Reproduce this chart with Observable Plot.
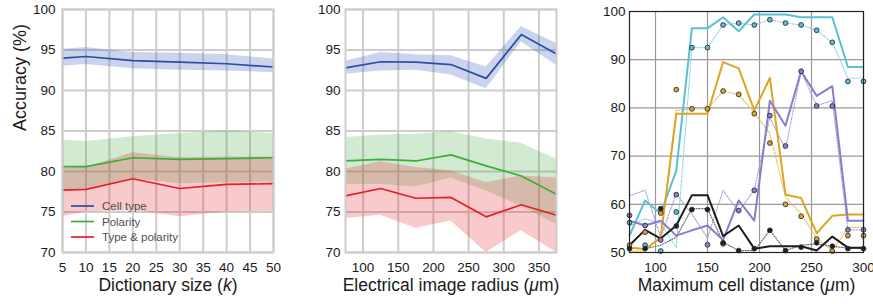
<!DOCTYPE html>
<html><head><meta charset="utf-8">
<script src="https://cdn.jsdelivr.net/npm/d3@7"></script>
<script src="https://cdn.jsdelivr.net/npm/@observablehq/plot@0.6"></script>
<style>
body{margin:0;background:#fff;}
#wrap{position:relative;width:873px;height:304px;overflow:hidden;font-family:"Liberation Sans",Arial,Helvetica,sans-serif;}
#wrap > svg{position:absolute;top:0;}
</style></head><body><div id="wrap"></div>
<script>
// ---------- Panel 1: dictionary size ----------
const dictSize = [5, 10, 20, 30, 40, 50];
const dictTicks = [5, 10, 15, 20, 25, 30, 35, 40, 45, 50];
const cellType1 = [94.0, 94.2, 93.7, 93.5, 93.3, 92.9];
const cellType1Lo = [93.0, 93.2, 92.7, 92.5, 92.4, 92.2];
const cellType1Hi = [95.1, 95.3, 94.7, 94.6, 94.4, 93.9];
const polarity1 = [80.6, 80.6, 81.7, 81.5, 81.6, 81.7];
const polarity1Lo = [77.7, 77.9, 79.1, 78.5, 78.6, 78.7];
const polarity1Hi = [83.9, 83.7, 84.3, 84.7, 85.0, 84.7];
const typePol1 = [77.7, 77.8, 79.1, 77.9, 78.4, 78.5];
const typePol1Lo = [74.4, 75.0, 75.2, 74.4, 75.0, 75.1];
const typePol1Hi = [80.4, 80.5, 82.3, 81.7, 81.8, 81.8];

// ---------- Panel 2: electrical image radius ----------
const radius = [75, 125, 175, 225, 275, 325, 375];
const radiusTicks = [100, 150, 200, 250, 300, 350];
const cellType2 = [92.8, 93.55, 93.5, 93.2, 91.5, 96.9, 94.5];
const cellType2Lo = [92.0, 92.4, 92.5, 91.9, 90.2, 96.0, 93.1];
const cellType2Hi = [93.6, 94.7, 94.4, 94.3, 92.9, 97.9, 95.8];
const polarity2 = [81.3, 81.5, 81.3, 82.05, 80.7, 79.45, 77.2];
const polarity2Lo = [78.4, 78.4, 78.1, 79.2, 77.6, 75.7, 73.5];
const polarity2Hi = [84.2, 84.5, 84.6, 84.9, 84.0, 83.5, 81.5];
const typePol2 = [77.0, 77.9, 76.7, 76.8, 74.4, 75.9, 74.6];
const typePol2Lo = [74.2, 74.6, 73.0, 73.9, 70.0, 72.7, 70.0];
const typePol2Hi = [80.3, 81.2, 80.5, 80.1, 78.6, 79.45, 79.2];

const accTicks = [70, 75, 80, 85, 90, 95, 100];
const seriesNames = ["Cell type", "Polarity", "Type & polarity"];
const seriesColors = ["#2c4da6", "#3cae38", "#e51f26"];
const bandColors = ["#3c64be", "#2ca02c", "#e8202a"];
const bandOpacity = [0.27, 0.22, 0.24];

// ---------- Panel 3: maximum cell distance ----------
const cellDist = [75, 90, 105, 120, 135, 150, 165, 180, 195, 210, 225, 240, 255, 270, 285, 300];
const distTicks = [100, 150, 200, 250, 300];
const acc3Ticks = [50, 60, 70, 80, 90, 100];
const cyanSolid   = [53.5, 60.8, 58.1, 67.0, 96.5, 96.5, 98.8, 95.9, 99.4, 99.4, 99.4, 98.8, 98.8, 98.8, 88.5, 88.5];
const cyanDotted  = [55.5, 57.0, 56.0, 51.0, 92.5, 92.5, 97.2, 97.6, 97.2, 98.3, 97.6, 97.2, 96.1, 93.6, 86.2, 86.2];
const cyanPts     = [56.2, 51.5, 50.3, 58.4, 92.5, 92.5, 97.2, 97.6, 97.2, 98.3, 97.6, 97.2, 96.1, 93.6, 85.5, 85.5];
const goldSolid   = [51.0, 50.7, 53.0, 78.8, 78.8, 78.8, 89.5, 88.2, 79.5, 86.2, 62.0, 61.3, 54.0, 57.6, 57.9, 57.9];
const goldDotted  = [50.3, 50.3, 53.5, 79.5, 79.8, 79.8, 83.5, 82.8, 79.0, 74.7, 61.5, 58.0, 53.0, 50.3, 55.2, 55.2];
const goldPts     = [51.5, 54.2, 58.2, 83.8, 79.8, 79.8, 83.5, 82.8, 78.8, 72.7, 60.0, 57.5, 52.8, 50.3, 53.5, 53.5];
const purpleSolid = [56.6, 55.6, 56.6, 53.5, 54.6, 55.6, 52.6, 60.8, 56.6, 81.5, 76.3, 87.6, 82.5, 84.5, 56.6, 56.6];
const purpleDotted= [61.8, 62.9, 53.2, 62.2, 58.0, 53.0, 62.9, 58.5, 63.0, 78.0, 71.5, 87.6, 80.5, 81.5, 54.7, 54.7];
const purplePts   = [57.7, 55.6, 52.6, 62.0, null, 51.6, 51.8, 58.7, 62.9, 78.4, 72.1, 87.6, 80.4, 80.4, 54.7, 54.7];
const blackSolid  = [51.5, 54.7, 52.9, 55.6, 61.9, 61.9, 53.4, 55.6, 50.8, 51.3, 51.3, 51.3, 50.4, 53.3, 51.0, 51.0];
const blackDotted = [51.0, 50.8, 51.5, 53.2, 59.1, 59.1, 52.1, 50.4, 50.4, 54.6, 50.4, 51.5, 51.8, 51.3, 50.9, 50.9];
const blackPts    = [50.8, 50.8, 59.1, 55.5, 58.9, 58.9, 52.0, 50.4, 50.8, 54.6, 50.4, 51.1, 52.0, 51.3, 50.8, 50.8];
const p3Colors = ["#5bbfd4", "#dea424", "#8b7dca", "#1e1e1e"];
const p3DotColors = ["#8fd2e2", "#e6bd5c", "#a99fda", "#6a6a6a"];

const FONT = '"Liberation Sans", Arial, Helvetica, sans-serif';
const wrap = document.getElementById("wrap");

function table(xs, cols) {
  return xs.map((x, i) => { const r = {x}; for (const k in cols) r[k] = cols[k][i]; return r; });
}
function italicize(svg, full, parts) {
  svg.querySelectorAll("text").forEach(t => {
    if (t.textContent === full) {
      t.textContent = "";
      parts.forEach(([s, it]) => {
        const ts = document.createElementNS("http://www.w3.org/2000/svg", "tspan");
        ts.textContent = s;
        if (it) ts.setAttribute("font-style", "italic");
        t.appendChild(ts);
      });
    }
  });
}

function bandPanel(opts) {
  const {xs, xTicks, domainX, series, width, marginLeft, marginRight, tickPad, xLabel, yLabel} = opts;
  const marks = [
    Plot.gridX(xTicks, {stroke: "#cdcdcd", strokeOpacity: 1, strokeWidth: 2}),
    Plot.gridY(accTicks, {stroke: "#cdcdcd", strokeOpacity: 1, strokeWidth: 2})
  ];
  series.forEach((s, i) => {
    const d = table(xs, {m: s[0], lo: s[1], hi: s[2]});
    marks.push(Plot.areaY(d, {x: "x", y1: "lo", y2: "hi", fill: bandColors[i], fillOpacity: bandOpacity[i]}));
  });
  series.forEach((s, i) => {
    const d = table(xs, {m: s[0]});
    marks.push(Plot.lineY(d, {x: "x", y: "m", stroke: seriesColors[i], strokeWidth: 1.7}));
  });
  marks.push(
    Plot.frame({stroke: "#cdcdcd", strokeWidth: 2}),
    Plot.axisX(xTicks, {tickSize: 0, tickPadding: 10, label: null}),
    Plot.axisY(accTicks, {tickSize: 0, tickPadding: tickPad, label: null}),
    Plot.text([xLabel], {text: d => d, frameAnchor: "bottom", dy: 38.5, fontSize: 17.5})
  );
  if (yLabel) marks.push(Plot.text([yLabel], {text: d => d, frameAnchor: "left", dx: -42, rotate: -90, fontSize: 18}));
  return Plot.plot({
    width, height: 304,
    marginLeft, marginRight, marginTop: 9, marginBottom: 52,
    style: {fontFamily: FONT, fontSize: "13.5px", color: "#1a1a1a", background: "transparent", overflow: "visible"},
    x: {domain: domainX},
    y: {domain: [70, 100]},
    marks
  });
}

const p1 = bandPanel({
  xs: dictSize, xTicks: dictTicks, domainX: [5, 50],
  series: [[cellType1, cellType1Lo, cellType1Hi], [polarity1, polarity1Lo, polarity1Hi], [typePol1, typePol1Lo, typePol1Hi]],
  width: 285, marginLeft: 62, marginRight: 12, tickPad: 7,
  xLabel: "Dictionary size (k)", yLabel: "Accuracy (%)"
});
p1.style.left = "0px";
italicize(p1, "Dictionary size (k)", [["Dictionary size (", false], ["k", true], [")", false]]);
// legend inside panel 1
const lg = d3.select(p1).append("g").attr("font-family", FONT).attr("font-size", 11.5).attr("fill", "#505050").attr("text-anchor", "start");
seriesNames.forEach((name, i) => {
  const y = 206 + i * 15.5;
  lg.append("line").attr("x1", 71).attr("x2", 94).attr("y1", y).attr("y2", y)
    .attr("stroke", seriesColors[i]).attr("stroke-width", 1.7);
  lg.append("text").attr("x", 102).attr("y", y).attr("dy", "0.35em").attr("text-anchor", "start").text(name);
});
wrap.appendChild(p1);

const p2 = bandPanel({
  xs: radius, xTicks: radiusTicks, domainX: [75, 375],
  series: [[cellType2, cellType2Lo, cellType2Hi], [polarity2, polarity2Lo, polarity2Hi], [typePol2, typePol2Lo, typePol2Hi]],
  width: 276, marginLeft: 55, marginRight: 10, tickPad: 5,
  xLabel: "Electrical image radius (μm)", yLabel: null
});
p2.style.left = "290px";
italicize(p2, "Electrical image radius (μm)", [["Electrical image radius (", false], ["μ", true], ["m)", false]]);
wrap.appendChild(p2);

// Panel 3
const solids = [cyanSolid, goldSolid, purpleSolid, blackSolid];
const dotteds = [cyanDotted, goldDotted, purpleDotted, blackDotted];
const pts = [cyanPts, goldPts, purplePts, blackPts];
const marks3 = [
  Plot.gridX(distTicks, {stroke: "#9a9a9a", strokeOpacity: 1, strokeWidth: 1.2}),
  Plot.gridY(acc3Ticks, {stroke: "#9a9a9a", strokeOpacity: 1, strokeWidth: 1.2})
];
dotteds.forEach((s, i) => {
  marks3.push(Plot.lineY(table(cellDist, {v: s}), {x: "x", y: "v", stroke: p3DotColors[i], strokeWidth: 1.2, strokeDasharray: "1,1.6"}));
});
solids.forEach((s, i) => {
  marks3.push(Plot.lineY(table(cellDist, {v: s}), {x: "x", y: "v", stroke: p3Colors[i], strokeWidth: 2}));
});
pts.forEach((s, i) => {
  marks3.push(Plot.dot(table(cellDist, {v: s}).filter(d => d.v != null), {x: "x", y: "v", r: 2.4, fill: p3Colors[i], stroke: "#2b2b3b", strokeWidth: 0.9}));
});
marks3.push(
  Plot.frame({stroke: "#222", strokeWidth: 1.2}),
  Plot.axisX(distTicks, {tickSize: 0, tickPadding: 10, label: null}),
  Plot.axisY(acc3Ticks, {tickSize: 0, tickPadding: 4, label: null}),
  Plot.text(["Maximum cell distance (μm)"], {text: d => d, frameAnchor: "bottom", dy: 38.5, fontSize: 17.5})
);
const p3 = Plot.plot({
  width: 293, height: 304,
  marginLeft: 49, marginRight: 10, marginTop: 11, marginBottom: 52,
  style: {fontFamily: FONT, fontSize: "13.5px", color: "#1a1a1a", background: "transparent", overflow: "visible"},
  x: {domain: [75, 300]},
  y: {domain: [50, 100]},
  marks: marks3
});
p3.style.left = "580px";
italicize(p3, "Maximum cell distance (μm)", [["Maximum cell distance (", false], ["μ", true], ["m)", false]]);
wrap.appendChild(p3);
</script></body></html>
